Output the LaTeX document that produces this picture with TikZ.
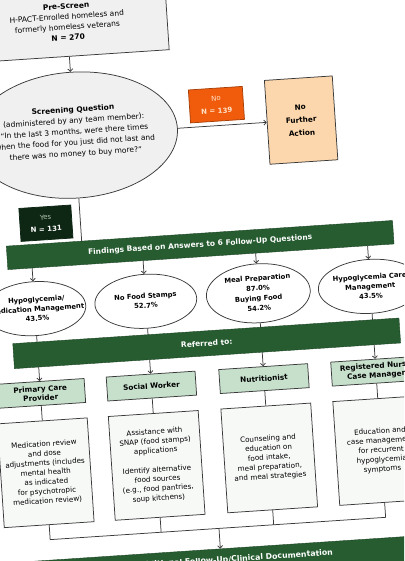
\documentclass[tikz,border=0pt]{standalone}
\usepackage{fontspec}
\setmainfont{DejaVu Sans}
\usetikzlibrary{shapes.geometric,arrows.meta}
\definecolor{lc}{RGB}{58,58,58}
\definecolor{dgreen}{RGB}{38,92,48}
\definecolor{ygreen}{RGB}{14,38,20}
\definecolor{orng}{RGB}{240,92,12}
\definecolor{peach}{RGB}{252,214,172}
\definecolor{lgreen}{RGB}{198,224,204}
\definecolor{lgray}{RGB}{240,240,241}
\definecolor{wbox}{RGB}{247,249,247}
\definecolor{nTxt}{RGB}{255,226,200}
\definecolor{yTxt}{RGB}{175,195,175}
\tikzset{
  bx/.style={draw=lc, line width=0.75pt, align=center, inner sep=0pt},
  gbar/.style={fill=dgreen, draw=dgreen!75!black, line width=0.4pt, text=white, align=center, inner sep=0pt, minimum width=387pt, font=\bfseries\fontsize{7.5}{9}\selectfont},
  ellbox/.style={ellipse, draw=lc, line width=0.75pt, fill=white, inner sep=0pt},
  role/.style={bx, fill=lgreen, minimum width=89pt, minimum height=24pt, font=\bfseries\fontsize{7.3}{9}\selectfont},
  tbox/.style={bx, fill=wbox, minimum width=90pt, minimum height=104pt, font=\fontsize{7.2}{9.5}\selectfont},
  etxt/.style={align=center, inner sep=0pt, font=\bfseries\fontsize{6.8}{9.5}\selectfont},
  conn/.style={draw=lc, line width=0.75pt},
  arr/.style={conn, -{Straight Barb[length=2.5pt,width=5pt]}},
}
\begin{document}
\begin{tikzpicture}[x=1pt,y=-1pt]
\useasboundingbox (0,0) rectangle (404,561);
\clip (0,0) rectangle (404,561);
\fill[white] (0,0) rectangle (404,561);
\begin{scope}[rotate around={3.8:(202,280)}, transform shape]
% top
\node[bx, fill=lgray, minimum width=200pt, minimum height=69pt, font=\fontsize{7.5}{10.5}\selectfont] (pre) at (84.5,13.5)
  {\textbf{Pre-Screen}\\H-PACT-Enrolled homeless and\\formerly homeless veterans\\\textbf{N = 270}};
\node[ellbox, fill=lgray, minimum width=206pt, minimum height=126pt] (sq) at (84.5,127) {};
\node[align=center, inner sep=0pt, font=\fontsize{7.5}{11}\selectfont] (sqt) at (84.5,124)
  {\textbf{Screening Question}\\(administered by any team member):\\“In the last 3 months, were there times\\when the food for you just did not last and\\there was no money to buy more?”};
\node[bx, fill=orng, draw=orng!70!black, minimum width=54pt, minimum height=33pt, text=nTxt, font=\fontsize{7}{12.5}\selectfont] (no) at (228,106) {No\\\textbf{N = 139}};
\node[bx, fill=peach, minimum width=68pt, minimum height=84pt, font=\bfseries\fontsize{7.3}{13}\selectfont] (nfa) at (311.5,127) {No\\Further\\Action};
\node[bx, fill=ygreen, draw=ygreen, minimum width=52pt, minimum height=33pt, font=\fontsize{7}{12}\selectfont] (yes) at (50,213) {\textcolor{yTxt}{Yes}\\\textcolor{white}{\textbf{N = 131}}};
\draw[arr] (pre.south) -- (sq.north);
\draw[arr] (sq.east) -- (nfa.west);
% bars
\node[gbar, minimum height=23.5pt] (find) at (202.5,245) {Findings Based on Answers to 6 Follow-Up Questions};
\node[gbar, minimum height=25pt] (ref) at (202.5,343.5) {Referred to:};
\node[gbar, minimum height=25pt] (doc) at (202.5,562) {};
\node[align=center, inner sep=0pt, text=white, font=\bfseries\fontsize{7.8}{9}\selectfont] (doct) at (216.5,561) {Additional Follow-Up/Clinical Documentation};
% ellipses
\node[ellbox, minimum width=102pt, minimum height=54pt] (e1) at (33.3,297.5) {};
\node[ellbox, minimum width=102pt, minimum height=54pt] (e2) at (144.5,297.5) {};
\node[ellbox, minimum width=104pt, minimum height=59pt] (e3) at (257.3,297) {};
\node[ellbox, minimum width=104pt, minimum height=54pt] (e4) at (369.5,297.5) {};
\node[etxt] (e1t) at (35.3,298) {Hypoglycemia/\\Medication Management\\43.5\%};
\node[etxt] (e2t) at (144.5,297) {No Food Stamps\\52.7\%};
\node[etxt, font=\bfseries\fontsize{6.8}{10}\selectfont] (e3t) at (257.3,297) {Meal Preparation\\87.0\%\\Buying Food\\54.2\%};
\node[etxt] (e4t) at (369.5,297.5) {Hypoglycemia Care\\Management\\43.5\%};
% roles
\node[role] (r1) at (33.3,382.5) {Primary Care\\Provider};
\node[role] (r2) at (144.5,382.5) {Social Worker};
\node[role] (r3) at (257.3,382.5) {Nutritionist};
\node[role] (r4) at (369.5,382.5) {Registered Nurse\\Case Manager};
% text boxes
\node[tbox] (t1) at (33.3,462) {Medication review\\and dose\\adjustments (includes\\mental health\\as indicated\\for psychotropic\\medication review)};
\node[tbox] (t2) at (144.5,462) {Assistance with\\SNAP (food stamps)\\applications\\[9.5pt]Identify alternative\\food sources\\(e.g., food pantries,\\soup kitchens)};
\node[tbox] (t3) at (257.3,462) {Counseling and\\education on\\food intake,\\meal preparation,\\and meal strategies};
\node[tbox] (t4) at (369.5,462) {Education and\\case management\\for recurrent\\hypoglycemia\\symptoms};
% helper coordinates
\foreach \i/\x in {1/33.3,2/144.5,3/257.3,4/369.5} {
  \coordinate (fb\i) at (\x,256.75);
  \coordinate (rt\i) at (\x,331);
  \coordinate (rb\i) at (\x,356);
  \coordinate (bk\i) at (\x,529);
}
\coordinate (fq) at (84.5,233.25);
\coordinate (bkm) at (202.5,529);
% connectors
\draw[conn] (sq.south) -- (fq);
\foreach \i in {1,2,3,4} {
  \draw[arr] (fb\i) -- (e\i.north);
  \draw[conn] (e\i.south) -- (rt\i);
  \draw[arr] (rb\i) -- (r\i.north);
  \draw[conn] (r\i.south) -- (t\i.north);
}
\draw[conn] (t1.south) -- (bk1) -- (bk4) -- (t4.south);
\draw[conn] (t2.south) -- (bk2);
\draw[conn] (t3.south) -- (bk3);
\draw[arr] (bkm) -- (doc.north);
\end{scope}
\end{tikzpicture}
\end{document}
